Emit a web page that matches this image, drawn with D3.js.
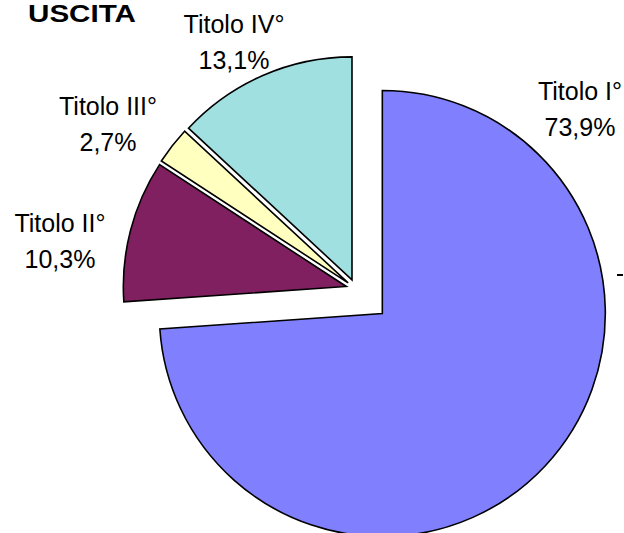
<!DOCTYPE html>
<html>
<head>
<meta charset="utf-8">
<script src="https://cdn.jsdelivr.net/npm/d3@7"></script>
<style>
  html, body { margin: 0; padding: 0; background: #fff; }
  svg { display: block; }
  text { font-family: "Liberation Sans", Arial, sans-serif; fill: #000; }
</style>
</head>
<body>
<svg id="chart" width="624" height="533"></svg>
<script>
// ---- data ----
const categories = ["Titolo I°", "Titolo II°", "Titolo III°", "Titolo IV°"];
const values = [73.9, 10.3, 2.7, 13.1];
const valueLabels = ["73,9%", "10,3%", "2,7%", "13,1%"];
const colors = ["#8080FF", "#802060", "#FFFFC0", "#A0E0E0"];
const title = "USCITA";

// ---- layout ----
const W = 624, H = 533;
const cx = 356, cy = 289, R = 223;
const explode = [36, 10, 10, 10];
// label anchors (centre x, baseline of first line)
const labelAnchors = [[580, 100], [60, 232], [108, 115], [234, 33]];
const lineGap = 36;

const svg = d3.select("#chart");

const pie = d3.pie().sort(null).value(d => d).startAngle(0).endAngle(2 * Math.PI);
const arcs = pie(values);
const arcGen = d3.arc().innerRadius(0).outerRadius(R);

const g = svg.append("g").attr("transform", `translate(${cx},${cy})`);

g.selectAll("path.slice")
  .data(arcs)
  .join("path")
  .attr("class", "slice")
  .attr("d", arcGen)
  .attr("transform", (d, i) => {
    const a = (d.startAngle + d.endAngle) / 2;
    const dx = Math.sin(a) * explode[i];
    const dy = -Math.cos(a) * explode[i];
    return `translate(${dx},${dy})`;
  })
  .attr("fill", (d, i) => colors[i])
  .attr("stroke", "#000")
  .attr("stroke-width", 1.6)
  .attr("stroke-linejoin", "miter");

// labels
const lg = svg.append("g");
categories.forEach((c, i) => {
  const [x, y] = labelAnchors[i];
  lg.append("text")
    .attr("x", x).attr("y", y)
    .attr("text-anchor", "middle")
    .attr("font-size", 25)
    .text(c);
  lg.append("text")
    .attr("x", x).attr("y", y + lineGap)
    .attr("text-anchor", "middle")
    .attr("font-size", 25)
    .text(valueLabels[i]);
});

// title
svg.append("text")
  .attr("x", 28).attr("y", 22)
  .attr("font-size", 24)
  .attr("font-weight", "bold")
  .attr("textLength", 108)
  .attr("lengthAdjust", "spacingAndGlyphs")
  .text(title);

// small clipped legend dash at the right edge
svg.append("line")
  .attr("x1", 617).attr("x2", 623)
  .attr("y1", 275).attr("y2", 275)
  .attr("stroke", "#000").attr("stroke-width", 2);
</script>
</body>
</html>
